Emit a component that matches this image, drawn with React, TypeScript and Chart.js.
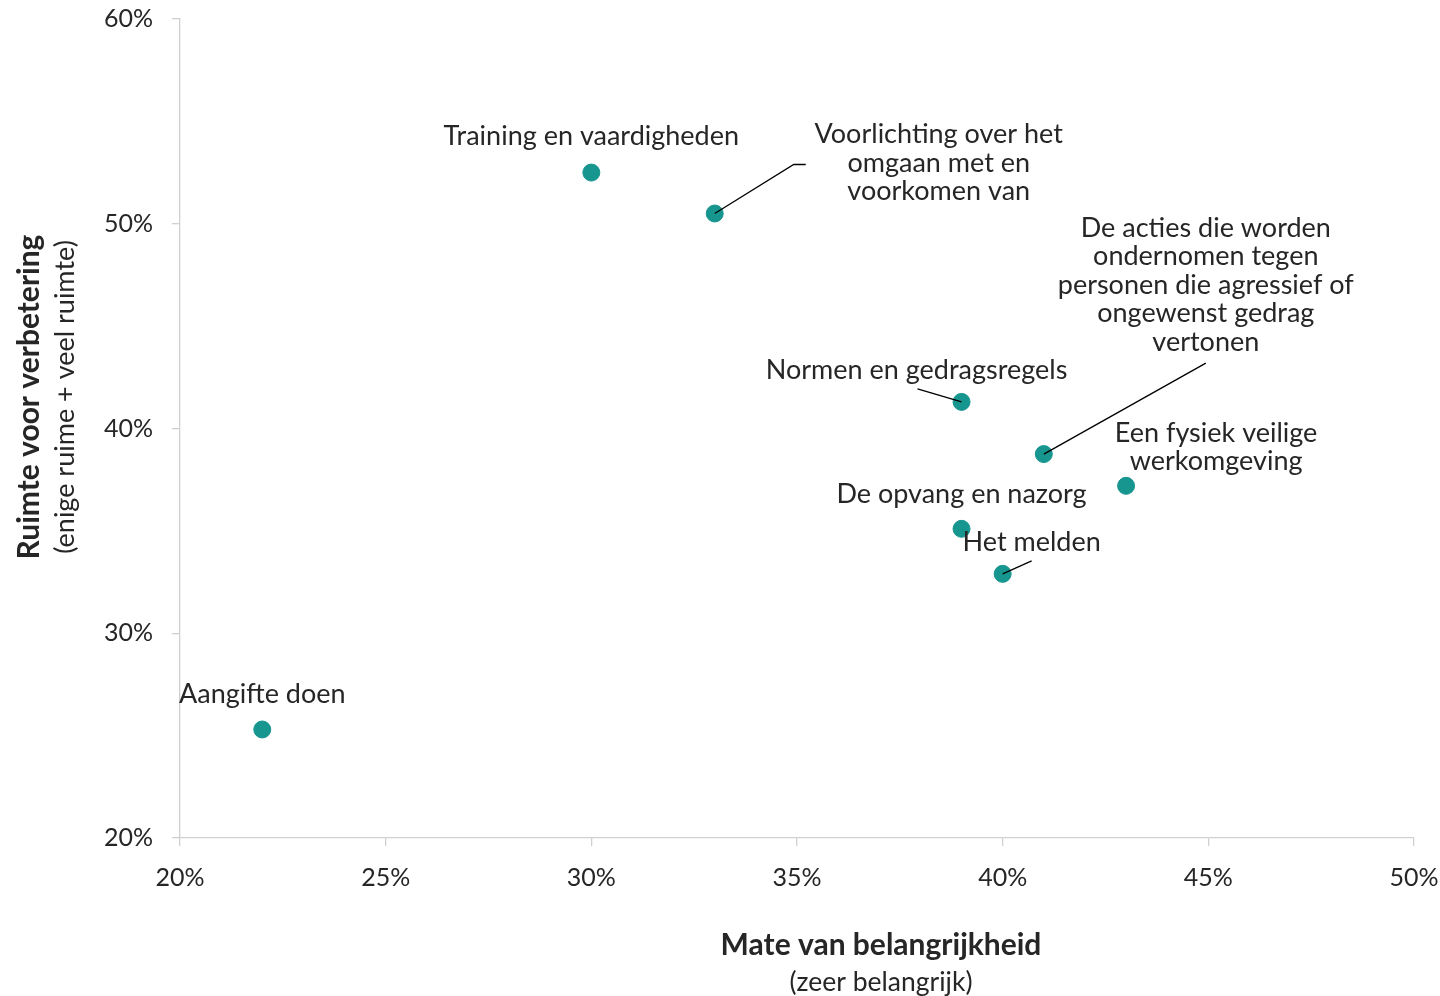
import React, { useEffect, useRef } from "react";
import { Chart, registerables } from "chart.js";

Chart.register(...registerables);

const categories = [
  "Aangifte doen",
  "Training en vaardigheden",
  "Voorlichting over het omgaan met en voorkomen van",
  "Normen en gedragsregels",
  "De acties die worden ondernomen tegen personen die agressief of ongewenst gedrag vertonen",
  "Een fysiek veilige werkomgeving",
  "De opvang en nazorg",
  "Het melden",
];
const belangrijkheid = [22, 30, 33, 39, 41, 43, 39, 40];
const ruimte = [25.3, 52.5, 50.5, 41.3, 38.75, 37.2, 35.1, 32.9];
const xTicks = [20, 25, 30, 35, 40, 45, 50];
const yTicks = [20, 30, 40, 50, 60];

// label layout (pixel offsets from the point), line breaks, leader lines
const labelLines: string[][] = [
  ["Aangifte doen"],
  ["Training en vaardigheden"],
  ["Voorlichting over het", "omgaan met en", "voorkomen van"],
  ["Normen en gedragsregels"],
  ["De acties die worden", "ondernomen tegen", "personen die agressief of", "ongewenst gedrag", "vertonen"],
  ["Een fysiek veilige", "werkomgeving"],
  ["De opvang en nazorg"],
  ["Het melden"],
];
const labelOffsets: [number, number][] = [
  [0, -35],
  [0, -36],
  [224, -79],
  [-45, -32],
  [162, -226],
  [90, -53],
  [0, -35],
  [29, -32],
];
// leader: [startDx, startDy, elbowDx, elbowDy] relative to point; null = none
const leaders: (number[] | null)[] = [
  null,
  null,
  [91, -49, 79, -49],
  [-44, -13],
  [162, -91],
  null,
  null,
  [29, -13],
];

const FONT = "Lato, 'Open Sans', sans-serif";
const TEXT = "#262626";

const labelPlugin = {
  id: "labels",
  afterDatasetsDraw(chart: any) {
    const ctx = chart.ctx;
    const meta = chart.getDatasetMeta(0);
    ctx.save();
    ctx.strokeStyle = "#000";
    ctx.lineWidth = 1.3;
    meta.data.forEach((el: any, i: number) => {
      const l = leaders[i];
      if (!l) return;
      ctx.beginPath();
      ctx.moveTo(el.x, el.y);
      if (l.length === 4) {
        ctx.lineTo(el.x + l[2], el.y + l[3]);
        ctx.lineTo(el.x + l[0], el.y + l[1]);
      } else {
        ctx.lineTo(el.x + l[0], el.y + l[1]);
      }
      ctx.stroke();
    });
    ctx.fillStyle = TEXT;
    ctx.font = `27px ${FONT}`;
    ctx.textAlign = "center";
    ctx.textBaseline = "middle";
    const lh = 28.5;
    meta.data.forEach((el: any, i: number) => {
      const lines = labelLines[i];
      const [dx, dy] = labelOffsets[i];
      lines.forEach((t, k) => {
        ctx.fillText(t, el.x + dx, el.y + dy + k * lh);
      });
    });
    ctx.restore();
  },
  afterDraw(chart: any) {
    const ctx = chart.ctx;
    ctx.save();
    ctx.fillStyle = TEXT;
    ctx.textAlign = "center";
    ctx.textBaseline = "middle";
    ctx.font = `bold 30px ${FONT}`;
    ctx.fillText("Mate van belangrijkheid", 881, 945);
    ctx.font = `26.5px ${FONT}`;
    ctx.fillText("(zeer belangrijk)", 881, 982);
    ctx.translate(29, 397);
    ctx.rotate(-Math.PI / 2);
    ctx.font = `bold 30px ${FONT}`;
    ctx.fillText("Ruimte voor verbetering", 0, 0);
    ctx.font = `27px ${FONT}`;
    ctx.fillText("(enige ruime + veel ruimte)", 0, 36);
    ctx.restore();
  },
};

export default function App() {
  const ref = useRef<HTMLCanvasElement>(null);
  useEffect(() => {
    if (!ref.current) return;
    const chart = new Chart(ref.current, {
      type: "scatter",
      data: {
        datasets: [
          {
            label: "Ruimte voor verbetering",
            data: belangrijkheid.map((x, i) => ({ x, y: ruimte[i] })),
            backgroundColor: "#17958f",
            borderColor: "#17958f",
            pointRadius: 8.5,
            pointHoverRadius: 8.5,
          },
        ],
      },
      options: {
        responsive: false,
        animation: false,
        layout: { padding: { top: 19, right: 26, left: 0, bottom: 0 } },
        plugins: { legend: { display: false }, tooltip: { enabled: false } },
        scales: {
          x: {
            type: "linear",
            min: 20,
            max: 50,
            afterBuildTicks: (s: any) => {
              s.ticks = xTicks.map((v) => ({ value: v }));
            },
            afterFit: (s: any) => {
              s.height = 158;
              s.paddingLeft = 0;
              s.paddingRight = 0;
            },
            grid: {
              drawOnChartArea: false,
              drawTicks: true,
              tickLength: 8,
              color: "#d0d0d0",
              lineWidth: 1.3,
            },
            border: { color: "#d0d0d0", width: 1.3 },
            ticks: {
              color: TEXT,
              font: { family: FONT, size: 25 },
              padding: 17,
              maxRotation: 0,
              callback: (v: any) => `${v}%`,
            },
          },
          y: {
            type: "linear",
            min: 20,
            max: 60,
            afterBuildTicks: (s: any) => {
              s.ticks = yTicks.map((v) => ({ value: v }));
            },
            afterFit: (s: any) => {
              s.width = 180;
              s.paddingTop = 0;
              s.paddingBottom = 0;
            },
            grid: {
              drawOnChartArea: false,
              drawTicks: true,
              tickLength: 8,
              color: "#d0d0d0",
              lineWidth: 1.3,
            },
            border: { color: "#d0d0d0", width: 1.3 },
            ticks: {
              color: TEXT,
              font: { family: FONT, size: 25 },
              padding: 19,
              callback: (v: any) => `${v}%`,
            },
          },
        },
      },
      plugins: [labelPlugin],
    });
    return () => chart.destroy();
  }, []);
  return (
    <div style={{ position: "fixed", left: 0, top: 0, width: 1440, height: 996, background: "#fff" }}>
      <canvas ref={ref} width={1440} height={996} style={{ width: 1440, height: 996, display: "block" }} />
    </div>
  );
}
